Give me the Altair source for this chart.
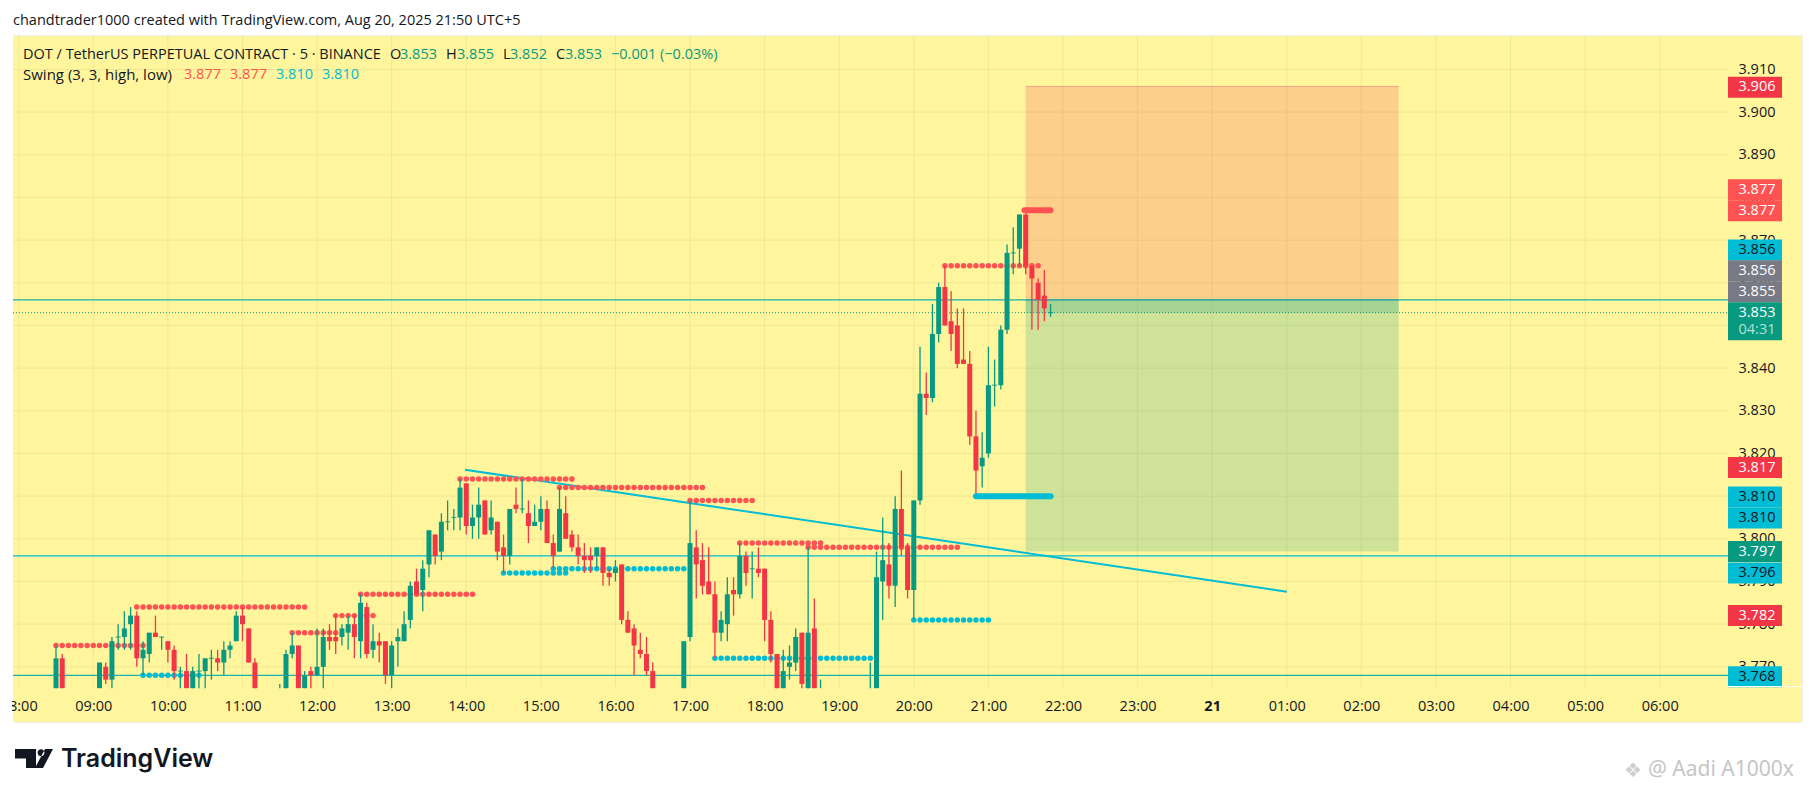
import altair as alt
import pandas as pd

# ---------- candle data (bar index counts 5-minute bars from 08:30) ----------
bars = [0,1,7,8,9,10,11,12,13,14,15,16,17,18,19,20,21,22,23,24,25,26,27,28,29,30,31,32,36,37,38,39,40,41,42,43,44,45,46,47,48,49,50,51,52,53,54,55,56,57,58,59,60,61,62,63,64,65,66,67,68,69,70,71,72,73,74,75,76,77,78,79,80,81,82,83,84,85,86,87,88,89,90,91,92,93,94,95,96,101,102,103,104,105,106,107,108,109,110,111,112,113,114,115,116,117,118,119,120,121,122,123,131,132,133,134,135,136,137,138,139,140,141,142,143,144,145,146,147,148,149,150,151,152,153,154,155,156,157,158,159,160]
opens = [3.765,3.772,3.765,3.770,3.767,3.777,3.777,3.780,3.782,3.772,3.773,3.778,3.777,3.776,3.774,3.769,3.769,3.765,3.769,3.769,3.772,3.772,3.771,3.774,3.776,3.782,3.779,3.771,3.765,3.765,3.773,3.775,3.765,3.769,3.768,3.770,3.777,3.777,3.777,3.778,3.780,3.776,3.784,3.774,3.776,3.776,3.768,3.776,3.776,3.781,3.790,3.788,3.794,3.801,3.797,3.804,3.805,3.805,3.813,3.803,3.805,3.809,3.802,3.804,3.798,3.796,3.808,3.807,3.806,3.803,3.804,3.807,3.799,3.797,3.806,3.801,3.798,3.796,3.796,3.796,3.798,3.792,3.792,3.794,3.781,3.779,3.774,3.773,3.769,3.765,3.777,3.798,3.795,3.790,3.787,3.778,3.780,3.788,3.787,3.796,3.793,3.793,3.793,3.781,3.773,3.765,3.770,3.771,3.778,3.765,3.779,3.765,3.765,3.765,3.790,3.794,3.789,3.807,3.798,3.788,3.809,3.834,3.833,3.848,3.859,3.851,3.850,3.842,3.841,3.824,3.817,3.820,3.836,3.836,3.849,3.867,3.868,3.876,3.864,3.860,3.857,3.853]
highs = [3.775,3.773,3.771,3.771,3.777,3.780,3.783,3.784,3.783,3.776,3.778,3.782,3.777,3.776,3.775,3.770,3.773,3.770,3.773,3.772,3.774,3.774,3.776,3.776,3.783,3.784,3.779,3.772,3.766,3.774,3.778,3.775,3.769,3.770,3.779,3.779,3.780,3.782,3.780,3.782,3.782,3.787,3.785,3.780,3.778,3.776,3.776,3.779,3.783,3.790,3.793,3.795,3.802,3.801,3.806,3.809,3.807,3.814,3.813,3.808,3.812,3.809,3.809,3.804,3.801,3.807,3.812,3.814,3.809,3.808,3.810,3.809,3.801,3.812,3.810,3.802,3.801,3.799,3.798,3.798,3.798,3.793,3.795,3.794,3.783,3.780,3.778,3.777,3.771,3.776,3.809,3.802,3.799,3.798,3.790,3.783,3.791,3.791,3.799,3.797,3.797,3.798,3.793,3.783,3.773,3.774,3.775,3.779,3.778,3.798,3.786,3.767,3.771,3.797,3.805,3.799,3.810,3.816,3.799,3.809,3.845,3.839,3.855,3.860,3.864,3.858,3.854,3.854,3.844,3.830,3.825,3.845,3.842,3.850,3.869,3.873,3.876,3.877,3.864,3.861,3.863,3.855]
lows = [3.765,3.765,3.765,3.766,3.765,3.774,3.774,3.774,3.770,3.768,3.771,3.777,3.774,3.771,3.767,3.765,3.765,3.765,3.765,3.765,3.767,3.769,3.768,3.772,3.776,3.776,3.771,3.765,3.765,3.765,3.772,3.765,3.765,3.765,3.768,3.765,3.774,3.773,3.775,3.774,3.772,3.772,3.772,3.772,3.771,3.766,3.765,3.770,3.776,3.779,3.787,3.783,3.791,3.794,3.795,3.802,3.802,3.802,3.801,3.800,3.800,3.801,3.801,3.795,3.792,3.794,3.806,3.806,3.799,3.803,3.802,3.799,3.793,3.797,3.800,3.797,3.794,3.792,3.792,3.793,3.789,3.789,3.790,3.780,3.778,3.768,3.772,3.768,3.765,3.765,3.776,3.786,3.787,3.787,3.772,3.776,3.776,3.782,3.786,3.789,3.786,3.791,3.776,3.771,3.765,3.765,3.767,3.769,3.765,3.765,3.765,3.765,3.765,3.765,3.781,3.786,3.784,3.796,3.786,3.781,3.808,3.829,3.832,3.846,3.850,3.844,3.840,3.841,3.822,3.810,3.812,3.819,3.831,3.835,3.848,3.862,3.864,3.862,3.849,3.849,3.851,3.852]
closes = [3.772,3.765,3.771,3.767,3.776,3.777,3.779,3.782,3.772,3.774,3.778,3.777,3.777,3.774,3.769,3.769,3.765,3.769,3.769,3.772,3.772,3.771,3.774,3.775,3.782,3.780,3.771,3.765,3.765,3.773,3.775,3.765,3.768,3.768,3.770,3.777,3.776,3.776,3.779,3.780,3.777,3.785,3.773,3.776,3.775,3.768,3.775,3.777,3.780,3.789,3.787,3.793,3.802,3.796,3.804,3.804,3.805,3.812,3.803,3.805,3.808,3.801,3.805,3.797,3.796,3.807,3.807,3.807,3.803,3.804,3.807,3.799,3.796,3.807,3.800,3.798,3.796,3.795,3.795,3.798,3.792,3.791,3.793,3.781,3.778,3.775,3.773,3.769,3.765,3.776,3.799,3.794,3.789,3.787,3.778,3.781,3.787,3.787,3.796,3.792,3.793,3.792,3.781,3.773,3.765,3.769,3.771,3.777,3.766,3.778,3.765,3.765,3.765,3.791,3.795,3.789,3.807,3.798,3.788,3.809,3.834,3.833,3.848,3.859,3.850,3.848,3.841,3.841,3.824,3.816,3.819,3.836,3.836,3.849,3.867,3.867,3.876,3.864,3.861,3.856,3.854,3.853]

# swing-level dots: (price, first bar, last bar)
swing_high_levels = [(3.775,0,14),(3.784,13,40),(3.778,38,45),(3.782,45,51),(3.787,49,67),(3.814,65,83),(3.812,81,104),(3.809,102,112),(3.799,110,123),(3.798,121,145),(3.864,143,158)]
swing_low_levels = [(3.768,14,23),(3.792,72,82),(3.793,80,101),(3.772,106,131),(3.781,138,150)]

# axis ticks
hour_bars = [-6,6,18,30,42,54,66,78,90,102,114,126,138,150,162,174,186,198,210,222,234,246,258]
hour_labels = ["08:00","09:00","10:00","11:00","12:00","13:00","14:00","15:00","16:00","17:00","18:00","19:00","20:00","21:00","22:00","23:00","21","01:00","02:00","03:00","04:00","05:00","06:00"]
price_ticks = [3.77,3.78,3.79,3.80,3.81,3.82,3.83,3.84,3.85,3.86,3.87,3.88,3.89,3.90,3.91]

# price tags on the scale
tag_text = ["3.906","3.877","3.877","3.856","3.856","3.855","3.853","04:31","3.817","3.810","3.810","3.797","3.796","3.782","3.768"]
tag_anchor = [3.9058,3.8818,3.8769,3.8677,3.8628,3.8579,3.8530,3.8490,3.8167,3.8098,3.8049,3.7970,3.7920,3.7820,3.7677]
tag_fill = ["#F23645","#FF5252","#FF5252","#00BCD4","#787B86","#787B86","#089981","#089981","#F23645","#00BCD4","#00BCD4","#089981","#00BCD4","#F23645","#00BCD4"]
tag_ink = ["#FFFFFF","#FFFFFF","#FFFFFF","#131722","#FFFFFF","#FFFFFF","#FFFFFF","#B5E0D6","#FFFFFF","#131722","#131722","#FFFFFF","#131722","#FFFFFF","#131722"]

# ---------- layout ----------
VIEW_L, VIEW_T, VIEW_R, VIEW_B = 13, 35, 1802, 722
W, H = VIEW_R - VIEW_L, VIEW_B - VIEW_T
PANE_R = 1728 - VIEW_L
PANE_B = 686.5 - VIEW_T
YELLOW = "#FFF59D"
xs = alt.Scale(domain=[-6.918, 280.89], nice=False, zero=False, padding=0)
ys = alt.Scale(domain=[3.75707, 3.91807], nice=False, zero=False, padding=0)

FONT = "Open Sans"
GRID = "#EFE795"

label_expr = "[" + ",".join(f"'{s}'" for s in hour_labels) + "][(datum.value+6)/12]"
x_axis = alt.Axis(values=hour_bars, labelExpr=label_expr, domain=False, ticks=False, grid=False,
                  orient="bottom", offset=-16, labelPadding=0, labelBaseline="middle", labelAngle=0,
                  labelFont=FONT, labelFontSize=14.5, labelColor="#131722", labelOverlap=False,
                  labelBound=False, labelFlush=False, title=None,
                  labelFontWeight={"condition": {"test": "datum.value == 186", "value": "bold"}, "value": "normal"})
y_axis = alt.Axis(values=price_ticks, format=".3f", domain=False, ticks=False, grid=False,
                  orient="right", offset=-(VIEW_R - 1738), labelPadding=0, labelAlign="left",
                  labelBaseline="middle", labelFont=FONT, labelFontSize=14.5, labelColor="#131722",
                  labelOverlap=False, labelBound=False, labelFlush=False, title=None)

def X(f):
    return alt.X(f, type="quantitative", scale=xs, axis=x_axis, title=None)
def Y(f):
    return alt.Y(f, type="quantitative", scale=ys, axis=y_axis, title=None)

candles = pd.DataFrame(dict(bar=bars, o=opens, h=highs, l=lows, c=closes))
candles["dir"] = ["up" if c >= o else "down" for o, c in zip(opens, closes)]
dir_color = alt.Color("dir:N", scale=alt.Scale(domain=["up", "down"], range=["#089981", "#F23645"]), legend=None)

vgrid = alt.Chart(pd.DataFrame({"bar": hour_bars})).mark_rule(color=GRID, strokeWidth=1).encode(
    x=X("bar"), y=alt.value(0), y2=alt.value(PANE_B))
hgrid = alt.Chart(pd.DataFrame({"p": price_ticks})).mark_rule(color=GRID, strokeWidth=1).encode(
    y=Y("p"), x=alt.value(0), x2=alt.value(PANE_R))

pos_box = pd.DataFrame(dict(b0=[156, 156, 156], b1=[216, 216, 216], p0=[3.856, 3.797, 3.853], p1=[3.906, 3.856, 3.856],
                            col=["#F23645", "#089981", "#089981"]))
rects = alt.Chart(pos_box).mark_rect(opacity=0.2).encode(
    x=X("b0"), x2="b1", y=Y("p0"), y2="p1", color=alt.Color("col:N", scale=None))
pos_edges = pd.DataFrame(dict(b0=[156, 156], b1=[216, 216], p=[3.906, 3.856], col=["#F9A08A", "#787B86"]))
edges = alt.Chart(pos_edges).mark_rule(strokeWidth=1).encode(
    x=X("b0"), x2="b1", y=Y("p"), color=alt.Color("col:N", scale=None))

hlines = alt.Chart(pd.DataFrame(dict(p=[3.856, 3.796, 3.768], col=["#14B4B0", "#00BCD4", "#14B4B0"]))).mark_rule(strokeWidth=1.3).encode(
    y=Y("p"), x=alt.value(0), x2=alt.value(PANE_R), color=alt.Color("col:N", scale=None))
last_price = alt.Chart(pd.DataFrame(dict(p=[3.853]))).mark_rule(color="#089981", strokeWidth=1, strokeDash=[1, 2]).encode(
    y=Y("p"), x=alt.value(0), x2=alt.value(PANE_R))

def dots(levels):
    return pd.DataFrame([{"bar": b, "p": p} for p, b0, b1 in levels for b in range(b0, b1 + 1)])

wicks = alt.Chart(candles).mark_rule(strokeWidth=1.3).encode(x=X("bar"), y=Y("l"), y2="h", color=dir_color)
bodies = alt.Chart(candles[candles.o != candles.c]).mark_bar(size=5).encode(x=X("bar"), y=Y("o"), y2="c", color=dir_color)
doji_rows = candles[(candles.o == candles.c) & (candles.o > 3.765)]
doji = alt.Chart(doji_rows).mark_tick(size=5, thickness=1.3, orient="horizontal").encode(x=X("bar"), y=Y("o"), color=dir_color)

hi_dots = alt.Chart(dots(swing_high_levels)).mark_circle(size=30, color="#FF5252", opacity=1).encode(x=X("bar"), y=Y("p"))
lo_dots = alt.Chart(dots(swing_low_levels)).mark_circle(size=30, color="#00BCD4", opacity=1).encode(x=X("bar"), y=Y("p"))

thick = pd.DataFrame(dict(b0=[155.8, 148], b1=[160.0, 160.0], p=[3.877, 3.810], col=["#FF5252", "#00BCD4"]))
thick_lines = alt.Chart(thick).mark_rule(strokeWidth=6, strokeCap="round").encode(
    x=X("b0"), x2="b1", y=Y("p"), color=alt.Color("col:N", scale=None))

trend = alt.Chart(pd.DataFrame(dict(b=[65.8, 198.0], p=[3.8162, 3.7876]))).mark_line(color="#00BCD4", strokeWidth=2).encode(x=X("b"), y=Y("p"))

tags = pd.DataFrame(dict(t=tag_text, a=tag_anchor, f=tag_fill, ink=tag_ink))
tag_bg = alt.Chart(tags).mark_rule(strokeWidth=21).encode(
    y=Y("a"), x=alt.value(1728 - VIEW_L), x2=alt.value(1782 - VIEW_L), color=alt.Color("f:N", scale=None))
tag_tx = alt.Chart(tags).mark_text(font=FONT, fontSize=14.5, align="center", baseline="middle").encode(
    y=Y("a"), x=alt.value(1757 - VIEW_L), text="t:N", color=alt.Color("ink:N", scale=None))

# white strip left of the pane hides the cut tick label; white line under the price scale
left_cover = alt.Chart(pd.DataFrame({"a": [0]})).mark_rect(color="#FFFFFF").encode(
    x=alt.value(-6), x2=alt.value(-1), y=alt.value(PANE_B), y2=alt.value(H))
scale_line = alt.Chart(pd.DataFrame({"a": [0]})).mark_rule(color="#FFFFFF", strokeWidth=1).encode(
    x=alt.value(PANE_R), x2=alt.value(W), y=alt.value(PANE_B))

# ---------- free text ----------
T = "#131722"; G = "#089981"; C = "#00BCD4"; R = "#FF5252"
text_rows = [
    ("chandtrader1000 created with TradingView.com, Aug 20, 2025 21:50 UTC+5", 13, 21, T, 14.5),
    ("DOT / TetherUS PERPETUAL CONTRACT · 5 · BINANCE", 23, 54.5, T, 14.5),
    ("O", 390, 54.5, T, 14.5), ("3.853", 400, 54.5, G, 14.5),
    ("H", 446, 54.5, T, 14.5), ("3.855", 457, 54.5, G, 14.5),
    ("L", 503, 54.5, T, 14.5), ("3.852", 510, 54.5, G, 14.5),
    ("C", 556, 54.5, T, 14.5), ("3.853", 565, 54.5, G, 14.5),
    ("−0.001 (−0.03%)", 611, 54.5, G, 14.5),
    ("Swing (3, 3, high, low)", 23, 75, T, 15),
    ("3.877", 184, 75, R, 14.5), ("3.877", 230, 75, R, 14.5),
    ("3.810", 276, 75, C, 14.5), ("3.810", 322, 75, C, 14.5),
]
texts = pd.DataFrame(text_rows, columns=["t", "px", "py", "col", "fs"])
texts["px"] = texts["px"] - VIEW_L
texts["py"] = texts["py"] - VIEW_T
free_text = alt.Chart(texts).mark_text(font=FONT, align="left", baseline="middle").encode(
    x=alt.X("px:Q", scale=None, axis=None), y=alt.Y("py:Q", scale=None, axis=None), text="t:N",
    color=alt.Color("col:N", scale=None), size=alt.Size("fs:Q", scale=None, legend=None))

logo_text = alt.Chart(pd.DataFrame({"t": ["TradingView"]})).mark_text(
    font="Inter", fontSize=25, fontWeight=600, align="left", baseline="middle", color="#131722").encode(
    x=alt.value(61 - VIEW_L), y=alt.value(759 - VIEW_T), text="t:N")
logo_path = ("M-19,-9.5 H2 V9.5 H-8 V0 H-19 Z "
             "M3.6,-5.8 a3.4,3.4 0 1 0 6.8,0 a3.4,3.4 0 1 0 -6.8,0 Z "
             "M11,-9.5 H19 L9,9.5 H1 Z")
logo_mark = alt.Chart(pd.DataFrame({"a": [0]})).mark_point(shape=logo_path, size=4, filled=True, color="#131722", opacity=1).encode(
    x=alt.value(34 - VIEW_L), y=alt.value(758.5 - VIEW_T))
watermark = alt.Chart(pd.DataFrame({"t": ["@ Aadi A1000x"]})).mark_text(
    font="Noto Sans", fontSize=21, align="left", baseline="middle", color="#B8B8B8", opacity=0.8).encode(
    x=alt.value(1648 - VIEW_L), y=alt.value(770 - VIEW_T), text="t:N")
watermark_icon = alt.Chart(pd.DataFrame({"t": ["❖"]})).mark_text(
    font="DejaVu Sans", fontSize=20, align="left", baseline="middle", color="#C4C4C4", opacity=0.8).encode(
    x=alt.value(1624 - VIEW_L), y=alt.value(771 - VIEW_T), text="t:N")

chart = alt.layer(
    vgrid, hgrid, rects, edges, hlines, last_price, trend, hi_dots, lo_dots,
    wicks, bodies, doji, thick_lines, tag_bg, tag_tx, left_cover, scale_line,
    free_text, logo_mark, logo_text, watermark, watermark_icon,
).resolve_scale(color="independent").properties(
    width=W, height=H,
    padding={"left": VIEW_L - 8, "top": VIEW_T - 8, "right": 5, "bottom": 60},
    autosize=alt.AutoSizeParams(type="none"),
    background="#FFFFFF",
).configure_view(fill=YELLOW, stroke="#EEEEEE", strokeWidth=1)

chart.save("out.html", embed_options={"renderer": "svg", "actions": False})
